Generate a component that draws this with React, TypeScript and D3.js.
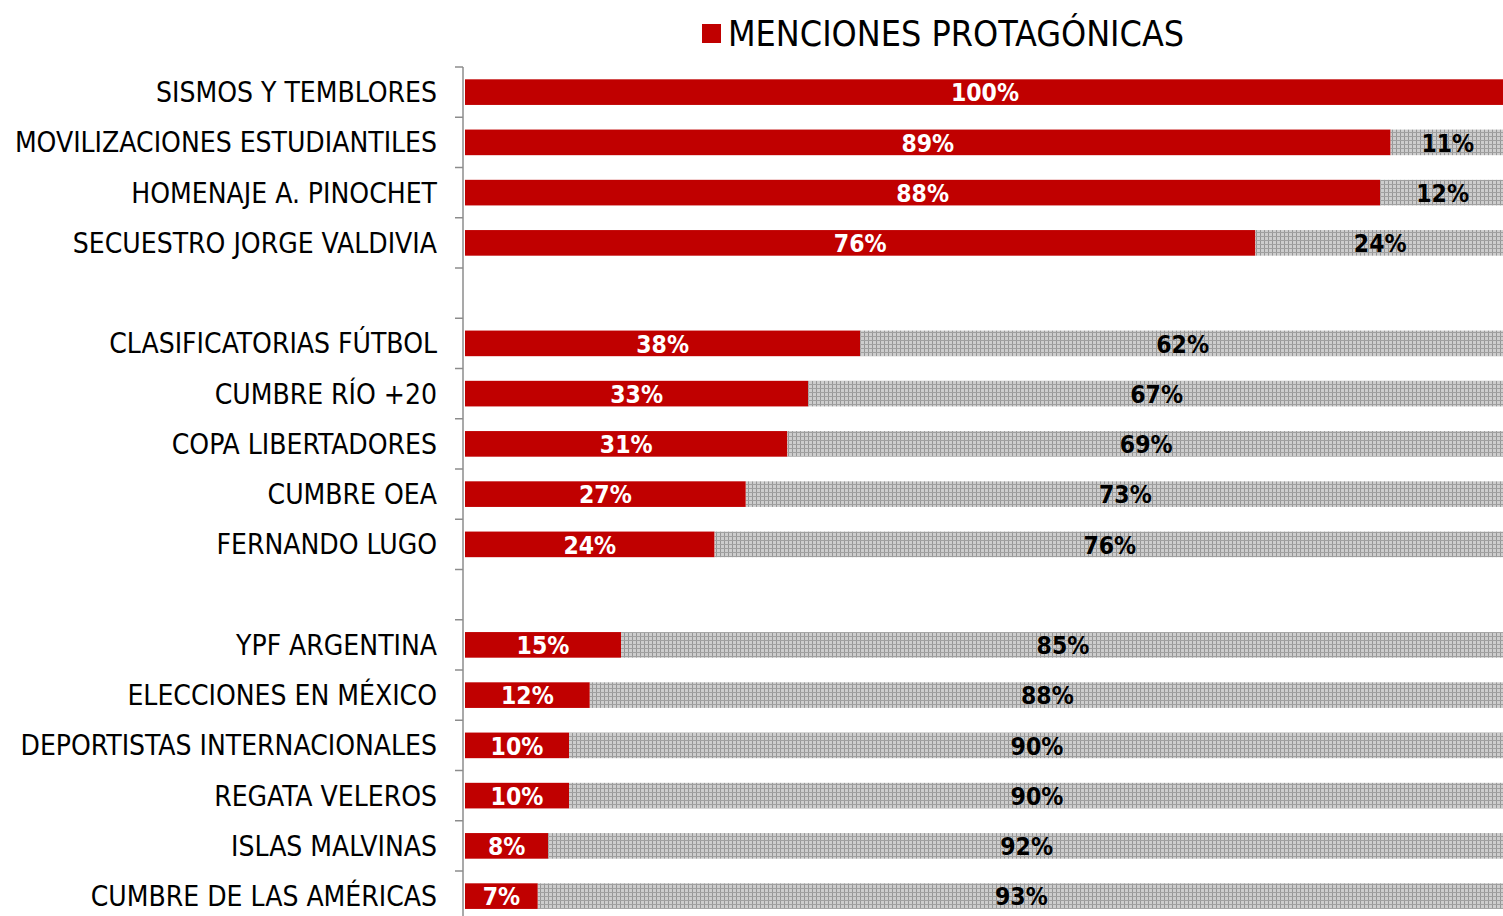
import React from "react";
import * as d3 from "d3";

// categories top to bottom ("" = gap row)
const categories = [
  "SISMOS Y TEMBLORES",
  "MOVILIZACIONES ESTUDIANTILES",
  "HOMENAJE A. PINOCHET",
  "SECUESTRO JORGE VALDIVIA",
  "",
  "CLASIFICATORIAS FÚTBOL",
  "CUMBRE RÍO +20",
  "COPA LIBERTADORES",
  "CUMBRE OEA",
  "FERNANDO LUGO",
  "",
  "YPF ARGENTINA",
  "ELECCIONES EN MÉXICO",
  "DEPORTISTAS INTERNACIONALES",
  "REGATA VELEROS",
  "ISLAS MALVINAS",
  "CUMBRE DE LAS AMÉRICAS",
];

const protagonicas = [100, 89, 88, 76, null, 38, 33, 31, 27, 24, null, 15, 12, 10, 10, 8, 7];
const otras = [0, 11, 12, 24, null, 62, 67, 69, 73, 76, null, 85, 88, 90, 90, 92, 93];

const legendLabel = "MENCIONES PROTAGÓNICAS";

const RED = "#C00000";
const FONT = "'DejaVu Sans Condensed', 'DejaVu Sans', sans-serif";

export default function App() {
  const width = 1503;
  const height = 916;
  const axisX = 463;
  const top = 67;
  const step = 50.25;

  const ids = categories.map((_, i) => String(i));
  const y = d3
    .scaleBand<string>()
    .domain(ids)
    .range([top, top + step * ids.length])
    .paddingInner(0.49)
    .paddingOuter(0.245);

  const x = d3.scaleLinear().domain([0, 100]).range([465, 1505]);

  const ticks = d3.range(ids.length + 1).map((i) => top + i * step);

  return (
    <div
      style={{
        position: "fixed",
        left: 0,
        top: 0,
        width,
        height,
        overflow: "hidden",
        background: "#fff",
      }}
    >
      <svg width={width} height={height} style={{ display: "block" }} fontFamily={FONT}>
        <defs>
          <pattern id="grayGrid" width={4} height={4} patternUnits="userSpaceOnUse">
            <rect width={4} height={4} fill="#cdcdcd" />
            <rect x={0} y={0} width={1} height={4} fill="#969696" />
            <rect x={0} y={0} width={4} height={1} fill="#a0a0a0" />
          </pattern>
        </defs>

        {/* legend */}
        <rect x={702} y={24} width={19} height={19} fill={RED} />
        <text x={728} y={46} fontSize={35.6} fill="#000">
          {legendLabel}
        </text>

        {/* axis */}
        <g stroke="#8c8c8c" strokeWidth={1.5}>
          <line x1={axisX} x2={axisX} y1={top} y2={height + 10} />
          {ticks.map((t, i) => (
            <line key={i} x1={axisX - 8} x2={axisX} y1={t} y2={t} />
          ))}
        </g>

        {categories.map((cat, i) => {
          const p = protagonicas[i];
          const o = otras[i];
          const by = y(String(i))!;
          const bh = y.bandwidth();
          const cy = by + bh / 2;
          if (p == null) return null;
          return (
            <g key={i}>
              <text x={437} y={cy} dy="0.36em" textAnchor="end" fontSize={28} fill="#000">
                {cat}
              </text>
              <rect x={x(0)} y={by} width={x(p) - x(0)} height={bh} fill={RED} />
              {o ? (
                <rect x={x(p)} y={by} width={x(p + o) - x(p)} height={bh} fill="url(#grayGrid)" />
              ) : null}
              <text
                x={(x(0) + x(p)) / 2}
                y={cy}
                dy="0.38em"
                textAnchor="middle"
                fontSize={24.5}
                fontWeight="bold"
                fill="#fff"
              >
                {p}%
              </text>
              {o ? (
                <text
                  x={(x(p) + x(p + o)) / 2}
                  y={cy}
                  dy="0.38em"
                  textAnchor="middle"
                  fontSize={24.5}
                  fontWeight="bold"
                  fill="#000"
                >
                  {o}%
                </text>
              ) : null}
            </g>
          );
        })}
      </svg>
    </div>
  );
}
